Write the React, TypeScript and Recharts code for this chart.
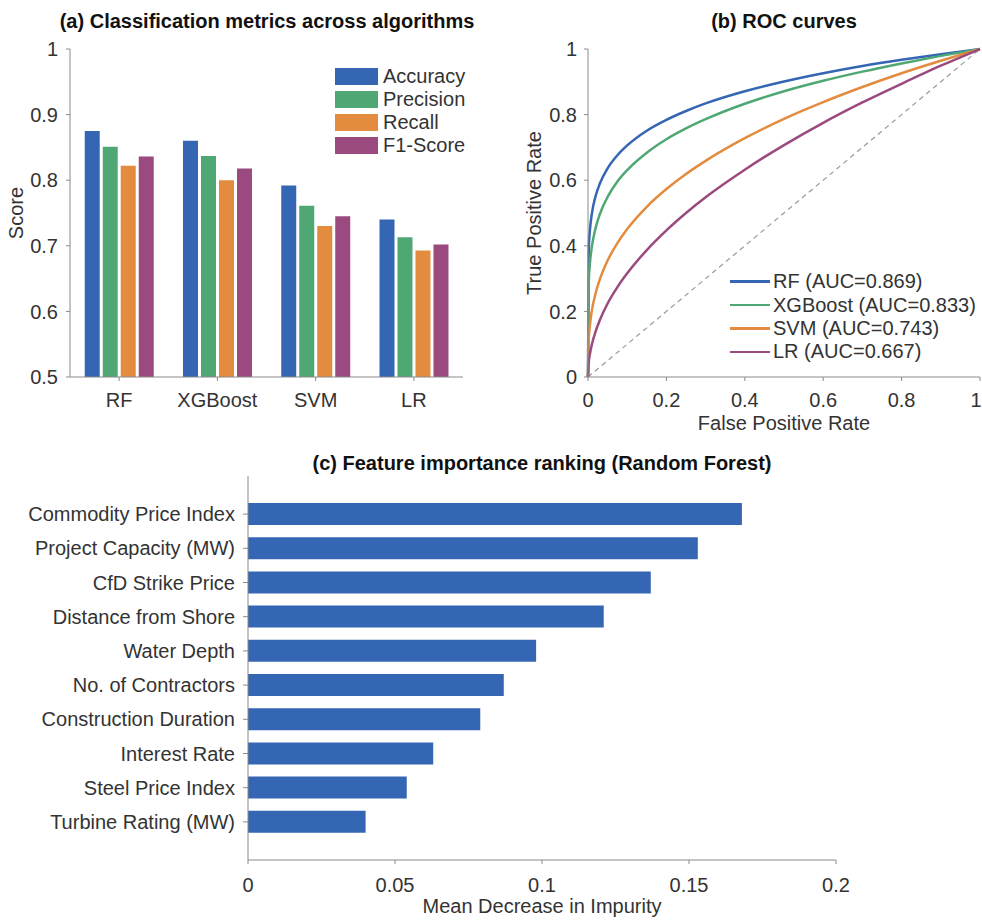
import { BarChart, Bar, LineChart, Line, XAxis, YAxis, Legend, ReferenceLine, Label } from 'recharts';

const FONT = '"Liberation Sans", Arial, Helvetica, sans-serif';
const TEXT = '#333333';
const AXIS = '#8a8a8a';
const BLUE = '#3466b3';

// (a) classification metrics
const algorithms = ['RF', 'XGBoost', 'SVM', 'LR'];
const metrics = ['Accuracy', 'Precision', 'Recall', 'F1-Score'];
const accuracy = [0.875, 0.86, 0.792, 0.74];
const precision = [0.851, 0.837, 0.761, 0.713];
const recall = [0.822, 0.8, 0.73, 0.693];
const f1Score = [0.836, 0.818, 0.745, 0.702];
const scoreTicks = [0.5, 0.6, 0.7, 0.8, 0.9, 1];

// (b) ROC curves
const fpr = [0, 0.002, 0.005, 0.01, 0.02, 0.03, 0.05, 0.075, 0.1, 0.15, 0.2, 0.25, 0.3, 0.4, 0.5, 0.6, 0.7, 0.8, 0.9, 1];
const tprRF = [0, 0.391, 0.449, 0.499, 0.554, 0.589, 0.636, 0.676, 0.706, 0.751, 0.784, 0.811, 0.834, 0.871, 0.901, 0.926, 0.948, 0.967, 0.984, 1];
const tprXGB = [0, 0.289, 0.347, 0.398, 0.457, 0.496, 0.549, 0.596, 0.631, 0.684, 0.725, 0.758, 0.786, 0.833, 0.871, 0.903, 0.931, 0.956, 0.979, 1];
const tprSVM = [0, 0.116, 0.16, 0.203, 0.258, 0.297, 0.355, 0.408, 0.451, 0.519, 0.573, 0.619, 0.659, 0.728, 0.787, 0.838, 0.884, 0.926, 0.964, 1];
const tprLR = [0, 0.045, 0.071, 0.1, 0.141, 0.173, 0.224, 0.274, 0.316, 0.387, 0.447, 0.5, 0.548, 0.632, 0.707, 0.775, 0.837, 0.894, 0.949, 1];
const rocNames = ['RF (AUC=0.869)', 'XGBoost (AUC=0.833)', 'SVM (AUC=0.743)', 'LR (AUC=0.667)'];
const rateTicks = [0, 0.2, 0.4, 0.6, 0.8, 1];

// (c) feature importance
const features = [
  'Commodity Price Index',
  'Project Capacity (MW)',
  'CfD Strike Price',
  'Distance from Shore',
  'Water Depth',
  'No. of Contractors',
  'Construction Duration',
  'Interest Rate',
  'Steel Price Index',
  'Turbine Rating (MW)',
];
const importance = [0.168, 0.153, 0.137, 0.121, 0.098, 0.087, 0.079, 0.063, 0.054, 0.04];
const importanceTicks = [0, 0.05, 0.1, 0.15, 0.2];

const metricColors = ['#3466b3', '#4fa874', '#e38b3e', '#9b4a7f'];

const barData = algorithms.map((name, i) => ({
  name,
  Accuracy: accuracy[i],
  Precision: precision[i],
  Recall: recall[i],
  'F1-Score': f1Score[i],
}));

const rocData = fpr.map((x, i) => ({
  fpr: x,
  rf: tprRF[i],
  xgb: tprXGB[i],
  svm: tprSVM[i],
  lr: tprLR[i],
}));

const featureData = features.map((name, i) => ({ name, value: importance[i] }));

const tick = { fontSize: 20, fill: TEXT };

const titleStyle = (left: number, width: number, top: number) => ({
  position: 'absolute' as const,
  left,
  top,
  width,
  textAlign: 'center' as const,
  fontWeight: 'bold' as const,
  fontSize: 20,
  lineHeight: '20px',
  color: '#111',
});

// keep legend rows in series order (recharts 3 sorts by name otherwise)
const ordered = (payload: any[], order: string[]) =>
  [...(payload || [])].sort((a, b) => order.indexOf(a.value) - order.indexOf(b.value));

const MetricLegend = ({ payload }: any) => (
  <div>
    {ordered(payload, metrics).map((p: any) => (
      <div key={p.value} style={{ display: 'flex', alignItems: 'center', height: 23 }}>
        <span style={{ display: 'inline-block', width: 43, height: 17, background: p.color, marginRight: 5 }} />
        <span style={{ fontSize: 20, color: TEXT, lineHeight: '23px' }}>{p.value}</span>
      </div>
    ))}
  </div>
);

const RocLegend = ({ payload }: any) => (
  <div>
    {ordered(payload, rocNames).map((p: any) => (
      <div key={p.value} style={{ display: 'flex', alignItems: 'center', height: 23.4 }}>
        <span style={{ display: 'inline-block', width: 40, height: 2.5, background: p.color, marginRight: 3 }} />
        <span style={{ fontSize: 20, color: TEXT, lineHeight: '23px', whiteSpace: 'nowrap' }}>{p.value}</span>
      </div>
    ))}
  </div>
);

// last x tick sits right on the page edge, nudge it in a little so it stays visible
const RateTick = ({ x, y, payload }: any) => {
  const tx = Math.min(x, 486);
  return (
    <text x={tx} y={y} dy={14.2} textAnchor="middle" fontSize={20} fill={TEXT}>
      {payload.value}
    </text>
  );
};

const MetricsChart = () => (
  <BarChart
    width={490}
    height={440}
    data={barData}
    margin={{ top: 49, right: 27, bottom: 33, left: 10 }}
    barCategoryGap="15%"
    barGap={3}
  >
    <XAxis dataKey="name" height={30} stroke={AXIS} tickSize={4} tickMargin={12} tick={tick} interval={0} />
    <YAxis width={60} domain={[0.5, 1]} ticks={scoreTicks} stroke={AXIS} tickSize={4} tickMargin={8} tick={tick} allowDataOverflow>
      <Label value="Score" angle={-90} position="insideLeft" offset={6} textAnchor="middle" fontSize={20} fill={TEXT} />
    </YAxis>
    <Legend
      content={MetricLegend}
      layout="vertical"
      align="center"
      verticalAlign="middle"
      wrapperStyle={{ left: 335, top: 65, width: 'auto' }}
    />
    <Bar dataKey="Accuracy" fill={metricColors[0]} isAnimationActive={false} />
    <Bar dataKey="Precision" fill={metricColors[1]} isAnimationActive={false} />
    <Bar dataKey="Recall" fill={metricColors[2]} isAnimationActive={false} />
    <Bar dataKey="F1-Score" fill={metricColors[3]} isAnimationActive={false} />
  </BarChart>
);

const RocChart = () => (
  <LineChart width={492} height={440} data={rocData} margin={{ top: 49, right: 2, bottom: 33, left: 0 }}>
    <XAxis
      type="number"
      dataKey="fpr"
      domain={[0, 1]}
      ticks={rateTicks}
      height={30}
      stroke={AXIS}
      tickSize={4}
      tickMargin={12}
      tick={<RateTick />}
      interval={0}
    >
      <Label value="False Positive Rate" position="bottom" offset={9} fontSize={20} fill={TEXT} />
    </XAxis>
    <YAxis type="number" domain={[0, 1]} ticks={rateTicks} width={98} stroke={AXIS} tickSize={4} tickMargin={7} tick={tick}>
      <Label value="True Positive Rate" angle={-90} position="insideLeft" offset={44} textAnchor="middle" fontSize={20} fill={TEXT} />
    </YAxis>
    <ReferenceLine segment={[{ x: 0, y: 0 }, { x: 1, y: 1 }]} stroke="#9a9a9a" strokeWidth={1.2} strokeDasharray="5 4" />
    <Legend
      content={RocLegend}
      layout="vertical"
      align="center"
      verticalAlign="middle"
      wrapperStyle={{ left: 240, top: 270, width: 'auto' }}
    />
    <Line type="monotone" dataKey="rf" name={rocNames[0]} stroke={metricColors[0]} strokeWidth={2.5} dot={false} isAnimationActive={false} />
    <Line type="monotone" dataKey="xgb" name={rocNames[1]} stroke={metricColors[1]} strokeWidth={2.5} dot={false} isAnimationActive={false} />
    <Line type="monotone" dataKey="svm" name={rocNames[2]} stroke={metricColors[2]} strokeWidth={2.5} dot={false} isAnimationActive={false} />
    <Line type="monotone" dataKey="lr" name={rocNames[3]} stroke={metricColors[3]} strokeWidth={2.5} dot={false} isAnimationActive={false} />
  </LineChart>
);

const ImportanceChart = () => (
  <BarChart layout="vertical" width={982} height={481} data={featureData} margin={{ top: 36, right: 146, bottom: 31, left: 0 }}>
    <XAxis
      type="number"
      domain={[0, 0.2]}
      ticks={importanceTicks}
      height={30}
      stroke={AXIS}
      tickSize={4}
      tickMargin={14}
      tick={tick}
      interval={0}
    >
      <Label value="Mean Decrease in Impurity" position="bottom" offset={9} fontSize={20} fill={TEXT} />
    </XAxis>
    <YAxis
      type="category"
      dataKey="name"
      width={248}
      stroke={AXIS}
      tickSize={5}
      tickMargin={8}
      tick={tick}
      interval={0}
      padding={{ top: 21, bottom: 21 }}
    />
    <Bar dataKey="value" fill={BLUE} barSize={22} isAnimationActive={false} />
  </BarChart>
);

export default function App() {
  return (
    <div
      style={{
        position: 'absolute',
        left: 0,
        top: 0,
        width: 982,
        height: 921,
        background: '#fff',
        fontFamily: FONT,
        color: TEXT,
      }}
    >
      <div style={titleStyle(17, 500, 11)}>(a) Classification metrics across algorithms</div>
      <div style={titleStyle(588, 392, 11)}>(b) ROC curves</div>
      <div style={titleStyle(242, 600, 453)}>(c) Feature importance ranking (Random Forest)</div>

      <div style={{ position: 'absolute', left: 0, top: 0 }}>
        <MetricsChart />
      </div>
      <div style={{ position: 'absolute', left: 490, top: 0 }}>
        <RocChart />
      </div>
      <div style={{ position: 'absolute', left: 0, top: 440 }}>
        <ImportanceChart />
      </div>
    </div>
  );
}
